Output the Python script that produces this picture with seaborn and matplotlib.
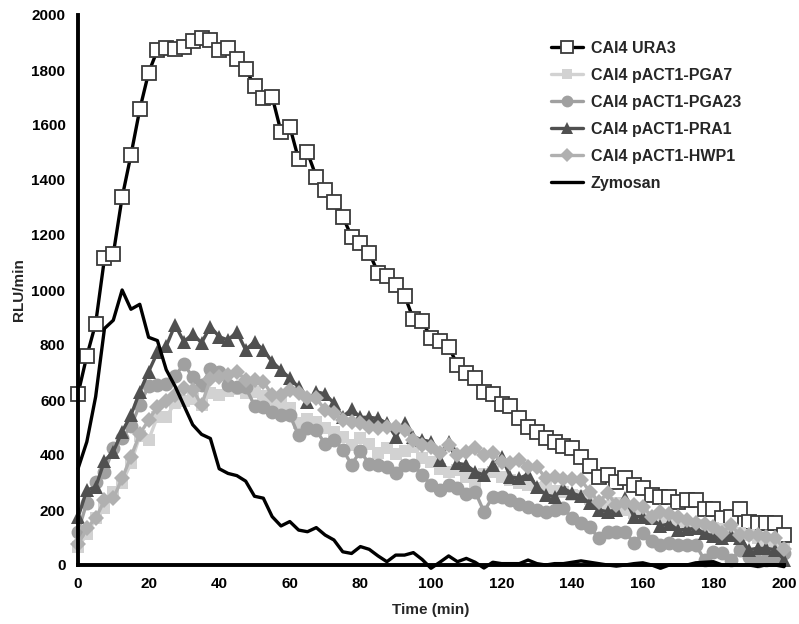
import numpy as np
import pandas as pd
import matplotlib
matplotlib.use("Agg")
import matplotlib.pyplot as plt
import seaborn as sns

time_min = [i * 2.5 for i in range(81)]

ura3 = [622, 760, 878, 1115, 1131, 1337, 1491, 1657, 1790, 1873, 1881, 1875, 1885, 1905, 1915, 1909,
        1873, 1879, 1839, 1803, 1742, 1697, 1703, 1576, 1594, 1475, 1500, 1412, 1364, 1319, 1267,
        1194, 1172, 1135, 1063, 1051, 1017, 980, 895, 887, 826, 816, 794, 727, 697, 679, 630, 622,
        585, 578, 533, 501, 485, 461, 448, 433, 424, 392, 360, 321, 327, 303, 315, 291, 279, 255,
        248, 248, 230, 236, 236, 203, 203, 170, 176, 203, 158, 154, 152, 154, 109]

pga7 = [64, 112, 170, 206, 264, 300, 370, 470, 455, 539, 539, 590, 595, 604, 582, 625, 618, 632,
        640, 625, 630, 615, 600, 588, 570, 515, 530, 521, 500, 485, 467, 436, 461, 440, 406, 424,
        403, 416, 428, 390, 375, 348, 339, 345, 321, 291, 330, 340, 320, 310, 300, 290, 280, 285,
        270, 265, 255, 250, 240, 225, 215, 225, 200, 190, 185, 175, 170, 165, 160, 150, 145, 140,
        135, 130, 120, 115, 110, 100, 90, 75, 60]

pga23 = [121, 227, 303, 339, 424, 461, 505, 582, 651, 655, 658, 687, 731, 683, 655, 711, 703, 655,
         648, 646, 580, 573, 555, 545, 545, 471, 500, 490, 440, 456, 420, 365, 414, 367, 362, 358,
         336, 364, 364, 327, 291, 273, 291, 279, 258, 267, 194, 248, 248, 236, 222, 212, 200, 194,
         200, 206, 170, 152, 139, 97, 121, 121, 121, 79, 118, 88, 73, 79, 73, 73, 73, 18, 48, 42,
         18, 55, 30, 15, 18, 24, 45]

pra1 = [173, 273, 283, 379, 412, 485, 545, 630, 703, 773, 796, 873, 812, 840, 808, 867, 830, 818,
        848, 782, 812, 782, 739, 709, 679, 646, 594, 630, 622, 588, 539, 566, 537, 537, 533, 515,
        467, 515, 467, 455, 448, 382, 448, 370, 364, 339, 327, 364, 394, 321, 315, 330, 285, 255,
        248, 279, 261, 250, 224, 200, 194, 200, 242, 176, 176, 170, 142, 150, 127, 130, 133, 115,
        105, 97, 109, 100, 55, 61, 61, 55, 20]

hwp1 = [75, 133, 170, 235, 242, 315, 394, 476, 527, 575, 597, 620, 645, 638, 582, 676, 682, 691,
        703, 673, 673, 667, 618, 618, 636, 624, 606, 606, 564, 552, 527, 521, 515, 503, 500, 503,
        503, 491, 455, 436, 430, 406, 436, 400, 410, 424, 400, 406, 376, 370, 382, 358, 358, 315,
        320, 312, 312, 309, 267, 230, 261, 218, 224, 218, 212, 176, 194, 185, 176, 165, 152, 150,
        140, 118, 145, 109, 109, 109, 103, 100, 57]

zymosan = [350, 448, 612, 860, 890, 1000, 930, 948, 828, 816, 710, 650, 580, 510, 475, 460, 350,
           333, 325, 305, 250, 243, 176, 142, 158, 127, 121, 136, 109, 91, 48, 42, 67, 57, 33, 12,
           36, 36, 45, 20, -12, 10, 33, 12, 24, 10, -11, 10, 5, 5, 5, 18, 5, 0, 5, 5, 10, 15, 10, 5,
           0, -4, 0, 5, 8, 0, -12, 0, 0, 0, 8, 10, 12, 0, 0, 0, 0, -5, 0, 0, -6]

labels = ["CAI4 URA3", "CAI4 pACT1-PGA7", "CAI4 pACT1-PGA23", "CAI4 pACT1-PRA1",
          "CAI4 pACT1-HWP1", "Zymosan"]
x_ticks = list(range(0, 201, 20))
y_ticks = list(range(0, 2001, 200))

sns.set_theme(style="white")
plt.rcParams["font.family"] = ["Liberation Sans", "DejaVu Sans"]
plt.rcParams["font.weight"] = "bold"

fig = plt.figure(figsize=(7.99, 6.24), dpi=100)
ax = fig.add_axes([78 / 799, 1 - 565 / 624, (784 - 78) / 799, (565 - 15) / 624])

styles = [
    dict(y=ura3, color="black", marker="s", ms=9.5, mfc="white", mec="#3a3a3a", mew=1.3, lw=2.4),
    dict(y=pga7, color="#d2d2d2", marker="s", ms=9, mfc="#d2d2d2", mec="#d2d2d2", mew=0, lw=2.4),
    dict(y=pga23, color="#a0a0a0", marker="o", ms=10, mfc="#a0a0a0", mec="#a0a0a0", mew=0, lw=2.4),
    dict(y=pra1, color="#505050", marker="^", ms=10.5, mfc="#505050", mec="#505050", mew=0, lw=2.4),
    dict(y=hwp1, color="#b0b0b0", marker="D", ms=8, mfc="#b0b0b0", mec="#b0b0b0", mew=0, lw=2.4),
    dict(y=zymosan, color="black", marker=None, ms=0, mfc="none", mec="none", mew=0, lw=2.4),
]

for lab, st in zip(labels, styles):
    df = pd.DataFrame({"t": time_min, "v": st["y"]})
    kw = dict(color=st["color"], linewidth=st["lw"], label=lab, clip_on=False)
    if st["marker"]:
        kw.update(marker=st["marker"], markersize=st["ms"], markerfacecolor=st["mfc"],
                  markeredgecolor=st["mec"], markeredgewidth=st["mew"])
    sns.lineplot(data=df, x="t", y="v", ax=ax, estimator=None, sort=False, **kw)

ax.set_xlim(0, 200)
ax.set_ylim(0, 2000)
ax.set_xticks(x_ticks)
ax.set_yticks(y_ticks)
ax.tick_params(axis="both", direction="out", length=5, width=2, colors="black",
               labelsize=11, pad=4)
for t in ax.get_xticklabels() + ax.get_yticklabels():
    t.set_fontweight("bold")
for side in ["top", "right"]:
    ax.spines[side].set_visible(False)
for side in ["left", "bottom"]:
    ax.spines[side].set_linewidth(2.8)
    ax.spines[side].set_color("black")
ax.set_xlabel("Time (min)", fontsize=11, fontweight="bold", labelpad=8)
ax.set_ylabel("RLU/min", fontsize=11, fontweight="bold", labelpad=4)

leg = ax.legend(loc="upper left", bbox_to_anchor=(551 / 799, 1 - 41 / 624),
                bbox_transform=fig.transFigure, frameon=False, fontsize=11.5,
                handlelength=2.0, handletextpad=0.5, labelspacing=0.75, borderpad=0,
                borderaxespad=0, numpoints=1, markerscale=0.85)
for txt in leg.get_texts():
    txt.set_fontweight("bold")

fig.savefig("out.png", dpi=100)
